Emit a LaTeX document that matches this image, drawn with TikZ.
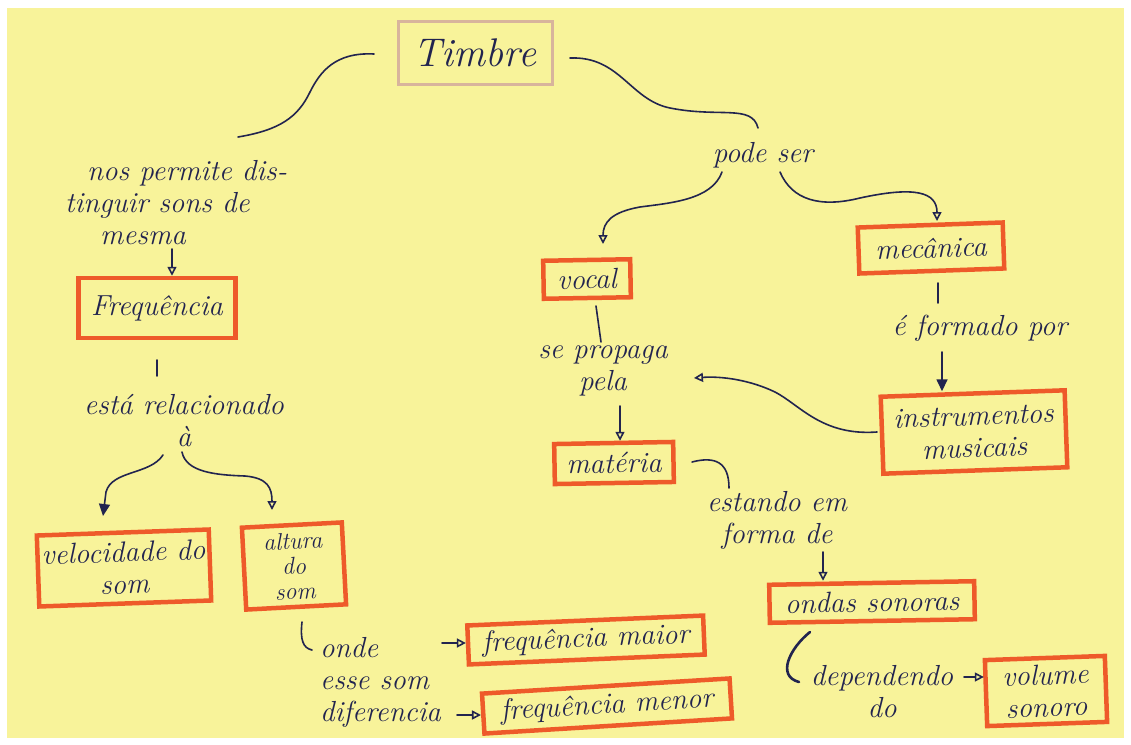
\documentclass[tikz,border=0pt]{standalone}
\usetikzlibrary{arrows.meta,calc}
\definecolor{paper}{HTML}{F8F39A}
\definecolor{boxc}{HTML}{EE5A2A}
\definecolor{ink}{HTML}{22244F}
\definecolor{timbc}{HTML}{D8B49C}
\newcommand\handf{\fontsize{29}{32}\selectfont\itshape}
\newcommand\handsm{\fontsize{24}{25}\selectfont\itshape}
\newcommand\handbig{\fontsize{40}{44}\selectfont\itshape}
\tikzset{
  box/.style={draw=boxc, line width=4.5pt, rectangle, inner sep=0pt, align=center, text=ink, font=\handf},
  lbl/.style={text=ink, font=\handf, align=center, inner sep=0pt},
  conn/.style={draw=ink, line width=1.6pt, line cap=round},
  oarr/.style={conn, -{Triangle[open, length=9pt, width=9pt]}},
  farr/.style={conn, -{Triangle[length=12pt, width=11pt]}},
}
\begin{document}
\begin{tikzpicture}[x=1pt,y=-1pt]
\useasboundingbox (0,0) rectangle (1131,744);
\fill[white] (0,0) rectangle (1131,744);
\fill[paper] (7,8) rectangle (1124,738);

% boxes
\node[box, draw=timbc, line width=3pt, font=\handbig, minimum width=154, minimum height=63] (timbre) at (475,53) {Timbre};
\node[box, minimum width=157, minimum height=60] (freq) at (157,308) {Frequência};
\node[box, minimum width=172, minimum height=71, rotate=2] (veloc) at (124,568) {velocidade do\\som};
\node[box, minimum width=100, minimum height=82, rotate=3, font=\handsm] (altura) at (294,566) {altura\\do\\som};
\node[box, minimum width=236, minimum height=39, rotate=2.4] (fmaior) at (586,640) {frequência maior};
\node[box, minimum width=248, minimum height=40, rotate=3.5] (fmenor) at (607,706) {frequência menor};
\node[box, minimum width=87, minimum height=38, rotate=1] (vocal) at (587,279) {vocal};
\node[box, minimum width=145, minimum height=46, rotate=2] (mec) at (931,248) {mecânica};
\node[box, minimum width=184, minimum height=77, rotate=2] (instr) at (974,432) {instrumentos\\musicais};
\node[box, minimum width=119, minimum height=40, rotate=1] (materia) at (614,463) {matéria};
\node[box, minimum width=205, minimum height=38, rotate=1] (ondas) at (872,602) {ondas sonoras};
\node[box, minimum width=120, minimum height=66, rotate=2] (volume) at (1046,691) {volume\\sonoro};

% labels
\node[lbl, align=left, anchor=west] (nos) at (65,203) {\hspace{22pt}nos permite dis-\\tinguir sons de\\\hspace{35pt}mesma};
\node[lbl] (estarel) at (184,421) {está relacionado\\à};
\node[lbl] (podeser) at (763,155) {pode ser};
\node[lbl] (seprop) at (603,371) {se propaga\\pela};
\node[lbl] (eform) at (980,328) {é formado por};
\node[lbl] (estando) at (777,520) {estando em\\forma de};
\node[lbl, align=left, anchor=west] (onde) at (320,682) {onde\\esse som\\diferencia};
\node[lbl] (depend) at (882,692) {dependendo\\do};

% named free ends
\coordinate (t1) at (374,54);
\coordinate (t1e) at (238,137);
\coordinate (t2) at (570,58);
\coordinate (t2e) at (758,128);
\coordinate (p1) at (722,172);
\coordinate (p1e) at (603,244);
\coordinate (p2) at (780,172);
\coordinate (p2e) at (937,221);
\coordinate (m1) at (938,283);
\coordinate (m1e) at (938,303);
\coordinate (m2) at (942,352);
\coordinate (i1) at (877,432);
\coordinate (i1e) at (694,378);
\coordinate (v1) at (596,306);
\coordinate (v1e) at (601,342);
\coordinate (s1) at (620,406);
\coordinate (mt1) at (692,462);
\coordinate (mt1e) at (729,488);
\coordinate (e1) at (823,552);
\coordinate (o1) at (810,632);
\coordinate (o1e) at (799,682);
\coordinate (d1) at (964,677);
\coordinate (n1) at (172,249);
\coordinate (f1) at (157,360);
\coordinate (f1e) at (157,376);
\coordinate (a1) at (163,455);
\coordinate (a2) at (182,452);
\coordinate (a2e) at (272,510);
\coordinate (b1) at (302,622);
\coordinate (b1e) at (312,650);
\coordinate (q1) at (442,643);
\coordinate (q2) at (457,715);

% connectors
\draw[conn] (t1) .. controls (335,52) and (320,72) .. (310,92) .. controls (298,117) and (280,130) .. (t1e);
\draw[conn] (t2) .. controls (620,56) and (630,100) .. (670,108) .. controls (720,118) and (752,104) .. (t2e);
\draw[oarr] (p1) .. controls (712,200) and (670,203) .. (640,207) .. controls (612,212) and (603,222) .. (p1e);
\draw[oarr] (p2) .. controls (792,200) and (820,208) .. (860,198) .. controls (915,186) and (937,192) .. (p2e);
\draw[conn] (m1) -- (m1e);
\draw[farr] (m2) -- (m2 |- instr.north);
\draw[oarr] (i1) .. controls (822,436) and (800,405) .. (775,392) .. controls (750,380) and (722,376) .. (i1e);
\draw[conn] (v1) -- (v1e);
\draw[oarr] (s1) -- (s1 |- materia.north);
\draw[conn] (mt1) .. controls (715,456) and (729,462) .. (mt1e);
\draw[oarr] (e1) -- (e1 |- ondas.north);
\draw[conn, line width=2.6pt] (o1) .. controls (790,648) and (776,676) .. (o1e);
\draw[oarr] (d1) -- (d1 -| volume.west);
\draw[oarr] (n1) -- (n1 |- freq.north);
\draw[conn] (f1) -- (f1e);
\draw[farr] (a1) .. controls (150,475) and (112,470) .. (106,492) -- (103,516);
\draw[oarr] (a2) .. controls (186,472) and (215,475) .. (245,476) .. controls (268,478) and (272,488) .. (a2e);
\draw[conn] (b1) .. controls (300,640) and (303,648) .. (b1e);
\draw[oarr] (q1) -- (q1 -| fmaior.west);
\draw[oarr] (q2) -- (q2 -| fmenor.west);
\end{tikzpicture}
\end{document}
